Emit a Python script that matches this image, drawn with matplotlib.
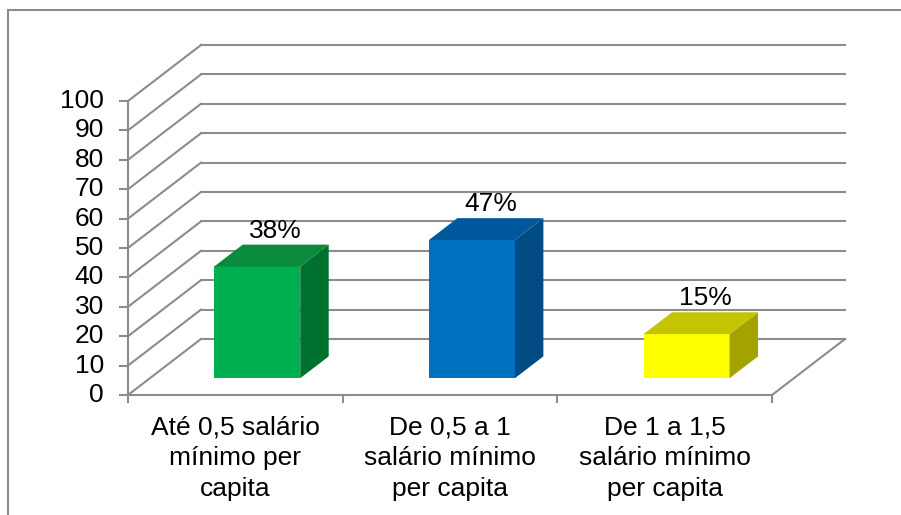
import matplotlib.pyplot as plt
from matplotlib.lines import Line2D

# Data
categories = ["Até 0,5 salário\nmínimo per\ncapita",
              "De 0,5 a 1\nsalário mínimo\nper capita",
              "De 1 a 1,5\nsalário mínimo\nper capita"]
values = [38, 47, 15]
labels = ["38%", "47%", "15%"]
yticks = list(range(0, 101, 10))

front_colors = ["#00B050", "#0070C0", "#FFFF00"]
top_colors = ["#0A8A3C", "#00589C", "#C4C400"]
side_colors = ["#00702F", "#004B82", "#A3A300"]

plt.rcParams['font.family'] = ['Liberation Sans', 'DejaVu Sans']

W, H = 901, 515
fig = plt.figure(figsize=(W / 100, H / 100), dpi=100)
ax = fig.add_axes([0, 0, 1, 1])
ax.set_axis_off()

# front plane: category units in x, value units in y
X0_PX, CAT_PX = 128, 214.67
Y0_PX, VAL_PX = 395, 2.94
ax.set_xlim((0 - X0_PX) / CAT_PX, (W - X0_PX) / CAT_PX)
ax.set_ylim((Y0_PX - H) / VAL_PX, Y0_PX / VAL_PX)

# oblique depth offset (full depth)
DX = 73 / CAT_PX
DY = 56 / VAL_PX
ncat = len(categories)


def proj(x, v, f):
    return x + f * DX, v + f * DY


grid_c = "#8C8C8C"
lw = 1.5
fs = 19

# back wall gridlines and left wall diagonals
for v in yticks:
    x1, y1 = proj(0, v, 1)
    x2, y2 = proj(ncat, v, 1)
    ax.plot([x1, x2], [y1, y2], color=grid_c, lw=lw, zorder=1)
    ax.plot([0, x1], [v, y1], color=grid_c, lw=lw, zorder=1)

# floor right edge
xa, ya = proj(ncat, 0, 1)
ax.plot([ncat, xa], [0, ya], color=grid_c, lw=lw, zorder=1)

# front axes
ax.plot([0, 0], [0, 100], color=grid_c, lw=lw, zorder=2)
ax.plot([0, ncat], [0, 0], color=grid_c, lw=lw, zorder=2)
tick_x = 8 / CAT_PX
tick_y = 7 / VAL_PX
for v in yticks:
    ax.plot([-tick_x, 0], [v, v], color=grid_c, lw=lw, zorder=2)
    ax.text(-24 / CAT_PX, v, str(v), ha='right', va='center', fontsize=fs)
for i in range(ncat + 1):
    ax.plot([i, i], [0, -tick_y], color=grid_c, lw=lw, zorder=2)

# bars
bw = 86 / CAT_PX
f0, f1 = 0.30, 0.69
for i, (val, lab) in enumerate(zip(values, labels)):
    xl = i + 0.5 - bw / 2
    xr = i + 0.5 + bw / 2
    # front face
    p = [proj(xl, 0, f0), proj(xr, 0, f0), proj(xr, val, f0), proj(xl, val, f0)]
    ax.fill(*zip(*p), color=front_colors[i], zorder=5, lw=0)
    # side face
    p = [proj(xr, 0, f0), proj(xr, 0, f1), proj(xr, val, f1), proj(xr, val, f0)]
    ax.fill(*zip(*p), color=side_colors[i], zorder=5, lw=0)
    # top face
    p = [proj(xl, val, f0), proj(xr, val, f0), proj(xr, val, f1), proj(xl, val, f1)]
    ax.fill(*zip(*p), color=top_colors[i], zorder=5, lw=0)
    lx, ly = proj(i + 0.5, val, f1)
    ax.text(lx - 10 / CAT_PX, ly + 2 / VAL_PX, lab, ha='center', va='bottom',
            fontsize=fs, zorder=6)

# category labels
for i, cat in enumerate(categories):
    ax.text(i + 0.5, -20 / VAL_PX, cat, ha='center', va='top', fontsize=fs,
            linespacing=1.36)

# chart border (left and top visible)
bx, by = 8 / W, 1 - 10 / H
fig.add_artist(Line2D([bx, bx], [0, by], color="#8C8C8C", lw=1.5,
                      transform=fig.transFigure))
fig.add_artist(Line2D([bx, 1], [by, by], color="#8C8C8C", lw=1.5,
                      transform=fig.transFigure))

fig.savefig("out.png", dpi=100)
